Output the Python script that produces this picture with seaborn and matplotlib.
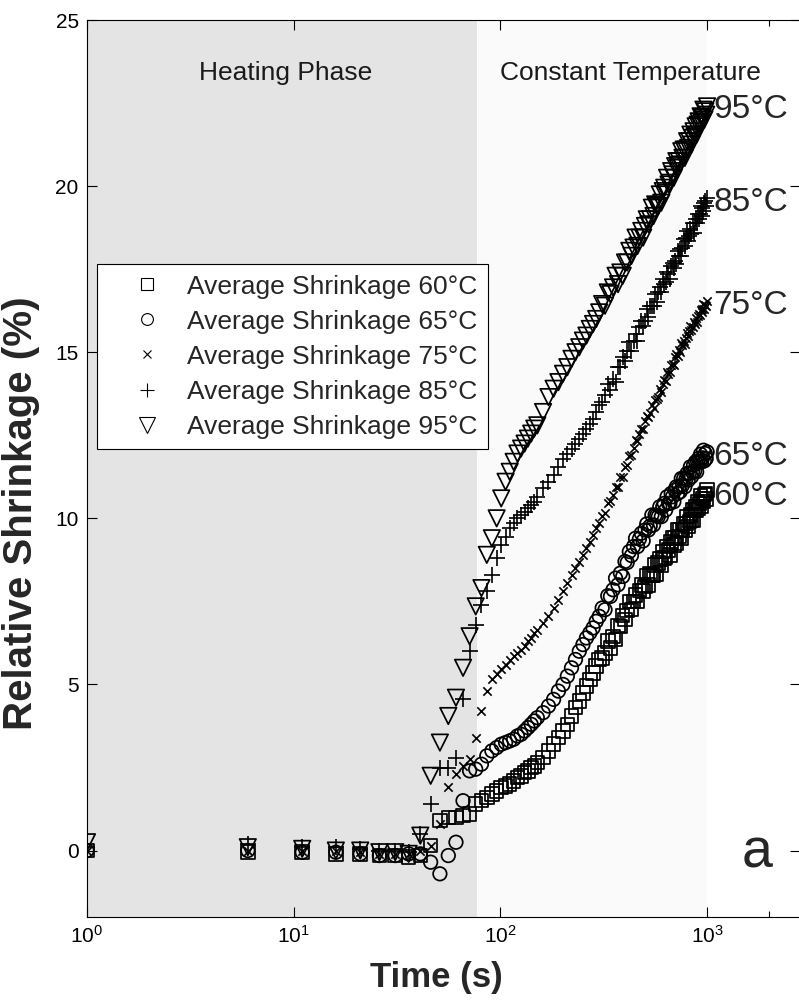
import matplotlib
matplotlib.use("Agg")
import matplotlib.pyplot as plt
import matplotlib.ticker as mticker
from matplotlib.lines import Line2D
import seaborn as sns

# sample times (s) and relative shrinkage (%)
time_s = [1, 6, 11, 16, 21, 26, 31, 36, 41, 46, 51, 56, 61, 66, 71, 76, 81, 86, 91, 96,
          101, 106, 111, 116, 121, 126, 131, 136, 141, 146, 151,
          161, 171, 181, 191, 201, 211, 221, 231, 241, 251, 261, 271, 281, 291, 301,
          311, 321, 331, 341, 351, 361, 371, 381, 391, 401, 411, 421, 431, 441, 451,
          461, 471, 481, 491, 501, 511, 521, 531, 541, 551, 561, 571, 581, 591, 601,
          611, 621, 631, 641, 651, 661, 671, 681, 691, 701, 711, 721, 731, 741, 751,
          761, 771, 781, 791, 801, 811, 821, 831, 841, 851, 861, 871, 881, 891, 901,
          911, 921, 931, 941, 951, 961, 971, 981, 991, 1001]

shrink_60 = [0.0, -0.05, -0.05, -0.1, -0.1, -0.15, -0.15, -0.2, -0.15, 0.15, 0.9, 1.0, 1.0, 1.05, 1.1, 1.4, 1.5, 1.6, 1.7, 1.8,
             1.9, 1.95, 2.0, 2.1, 2.2, 2.25, 2.35, 2.4, 2.5, 2.55, 2.65,
             2.8, 3.0, 3.2, 3.4, 3.6, 3.8, 4.05, 4.3, 4.5, 4.75, 4.95, 5.15, 5.35, 5.55, 5.75,
             5.8, 5.95, 6.3, 6.1, 6.45, 6.35, 6.78, 6.75, 7.07, 6.95, 7.23, 7.5, 7.25, 7.5, 7.7,
             7.5, 7.83, 8.0, 7.82, 7.95, 8.28, 8.0, 8.32, 8.3, 8.28, 8.6, 8.32, 8.65, 8.78, 8.6,
             9.0, 8.8, 8.82, 9.15, 9.05, 8.9, 9.28, 9.4, 9.2, 9.4, 9.25, 9.65, 9.45, 9.65, 9.4,
             9.65, 9.85, 9.65, 9.85, 10.05, 9.75, 9.9, 10.1, 9.95, 10.25, 9.95, 10.25, 10.35, 10.25, 10.5,
             10.3, 10.45, 10.68, 10.35, 10.6, 10.5, 10.72, 10.75, 10.58, 10.85]

shrink_65 = [0.0, 0.0, -0.05, -0.05, -0.1, -0.15, -0.15, -0.1, -0.1, -0.35, -0.7, -0.15, 0.25, 1.5, 2.4, 2.45, 2.6, 2.85, 3.0, 3.1,
             3.2, 3.25, 3.3, 3.35, 3.45, 3.5, 3.6, 3.7, 3.8, 3.9, 4.0,
             4.15, 4.35, 4.55, 4.8, 5.0, 5.25, 5.5, 5.75, 6.0, 6.2, 6.4, 6.55, 6.7, 6.9, 7.05,
             7.3, 7.25, 7.67, 7.65, 7.85, 8.2, 8.0, 8.35, 8.25, 8.7, 8.67, 9.0, 8.88, 9.15, 9.4,
             9.15, 9.38, 9.55, 9.32, 9.65, 9.83, 9.65, 9.77, 10.1, 9.8, 10.1, 10.08, 10.05, 10.35, 10.05,
             10.35, 10.45, 10.25, 10.65, 10.45, 10.45, 10.75, 10.65, 10.5, 10.85, 10.95, 10.75, 10.95, 10.8, 11.2,
             11.0, 11.2, 10.95, 11.18, 11.35, 11.15, 11.35, 11.55, 11.25, 11.4, 11.6, 11.42, 11.7, 11.4, 11.7,
             11.8, 11.7, 11.93, 11.7, 11.82, 12.05, 11.73, 11.95, 11.8, 12.0]

shrink_75 = [0.0, 0.0, 0.0, 0.0, -0.05, -0.1, -0.1, -0.1, 0.0, 0.15, 0.8, 1.9, 2.3, 2.55, 2.75, 3.4, 4.2, 4.8, 5.15, 5.3,
             5.45, 5.6, 5.75, 5.85, 5.95, 6.05, 6.15, 6.3, 6.4, 6.55, 6.65,
             6.85, 7.05, 7.3, 7.55, 7.8, 8.05, 8.3, 8.5, 8.7, 8.9, 9.1, 9.3, 9.5, 9.7, 9.85,
             10.08, 10.15, 10.46, 10.52, 10.7, 10.95, 10.95, 11.23, 11.25, 11.55, 11.62, 11.88, 11.9, 12.13, 12.35,
             12.32, 12.53, 12.7, 12.68, 12.93, 13.08, 13.05, 13.17, 13.4, 13.32, 13.55, 13.6, 13.65, 13.88, 13.8,
             14.03, 14.15, 14.12, 14.4, 14.35, 14.4, 14.63, 14.65, 14.63, 14.85, 14.96, 14.9, 15.06, 15.02, 15.28,
             15.22, 15.35, 15.25, 15.43, 15.58, 15.5, 15.63, 15.78, 15.67, 15.77, 15.9, 15.85, 16.03, 15.9, 16.08,
             16.15, 16.12, 16.28, 16.2, 16.3, 16.45, 16.3, 16.43, 16.4, 16.55]

shrink_85 = [0.1, 0.2, 0.1, 0.1, 0.05, 0.0, 0.0, -0.05, 0.5, 1.4, 2.5, 2.5, 2.8, 4.55, 6.0, 6.8, 7.4, 7.8, 8.3, 8.8,
             9.2, 9.45, 9.7, 9.85, 10.0, 10.1, 10.2, 10.3, 10.4, 10.5, 10.65,
             10.9, 11.1, 11.3, 11.55, 11.8, 11.95, 12.1, 12.25, 12.4, 12.55, 12.7, 12.85, 13.0, 13.2, 13.4,
             13.5, 13.7, 14.05, 13.85, 14.2, 14.1, 14.55, 14.55, 14.85, 14.75, 15.05, 15.3, 15.05, 15.35, 15.55,
             15.35, 15.75, 15.95, 15.8, 15.95, 16.3, 16.05, 16.4, 16.4, 16.4, 16.75, 16.5, 16.8, 16.95, 16.8,
             17.2, 17.05, 17.1, 17.4, 17.35, 17.2, 17.6, 17.7, 17.55, 17.75, 17.65, 18.05, 17.9, 18.1, 17.9,
             18.15, 18.4, 18.2, 18.45, 18.65, 18.35, 18.5, 18.7, 18.55, 18.9, 18.6, 18.9, 19.0, 18.9, 19.15,
             19.0, 19.15, 19.4, 19.1, 19.35, 19.25, 19.5, 19.55, 19.4, 19.65]

shrink_95 = [0.25, 0.1, 0.05, 0.0, 0.0, -0.05, -0.05, -0.1, 0.45, 2.25, 3.25, 4.05, 4.6, 5.5, 6.45, 7.35, 7.9, 8.9, 9.4, 10.0,
             10.6, 11.1, 11.4, 11.7, 11.95, 12.1, 12.25, 12.4, 12.55, 12.7, 12.8,
             13.2, 13.65, 13.9, 14.1, 14.35, 14.55, 14.8, 15.0, 15.15, 15.35, 15.5, 15.7, 15.85, 16.0, 16.2,
             16.45, 16.4, 16.8, 16.75, 16.95, 17.3, 17.05, 17.4, 17.3, 17.7, 17.7, 18.05, 17.9, 18.15, 18.45,
             18.2, 18.45, 18.65, 18.45, 18.8, 19.0, 18.85, 19.0, 19.35, 19.1, 19.45, 19.4, 19.4, 19.75, 19.5,
             19.85, 19.95, 19.8, 20.25, 20.05, 20.1, 20.45, 20.35, 20.25, 20.6, 20.75, 20.55, 20.75, 20.65, 21.05,
             20.85, 21.1, 20.85, 21.1, 21.35, 21.15, 21.35, 21.55, 21.25, 21.45, 21.65, 21.5, 21.8, 21.55, 21.85,
             21.95, 21.85, 22.1, 21.9, 22.05, 22.3, 22.0, 22.25, 22.15, 22.4]

temps = ["60°C", "65°C", "75°C", "85°C", "95°C"]
end_label_y = [10.65, 11.85, 16.4, 19.5, 22.3]
heating_end = 77

sns.set_style("ticks")
plt.rcParams['font.family'] = ['Liberation Sans', 'DejaVu Sans']
plt.rcParams['mathtext.fontset'] = 'custom'
plt.rcParams['mathtext.rm'] = 'Liberation Sans'
plt.rcParams['mathtext.default'] = 'regular'

fig = plt.figure(figsize=(7.99, 10.02), dpi=100)
ax = fig.add_axes([87 / 799, 85 / 1002, 713 / 799, 897 / 1002])

# phase shading
ax.axvspan(1, heating_end, color='#e4e4e4', lw=0, zorder=0)
ax.axvspan(heating_end, 1000, color='#fafafa', lw=0, zorder=0)

# (values, marker, scatter size, legend markersize, filled)
styles = [
    (shrink_60, 's', 95, 8.5, True),
    (shrink_65, 'o', 95, 8.5, True),
    (shrink_75, 'x', 36, 6, False),
    (shrink_85, '+', 125, 10.5, False),
    (shrink_95, 'v', 140, 11, True),
]
handles = []
for (vals, mk, size, msize, filled), temp in zip(styles, temps):
    if filled:
        sns.scatterplot(x=time_s, y=vals, marker=mk, s=size, facecolor='none',
                        edgecolor='black', linewidth=1.25, ax=ax, zorder=3)
    else:
        sns.scatterplot(x=time_s, y=vals, marker=mk, s=size, color='black',
                        linewidth=1.2, ax=ax, zorder=3)
    handles.append(Line2D([], [], ls='none', marker=mk, markersize=msize,
                          markerfacecolor='none', markeredgecolor='black',
                          markeredgewidth=0.8, label=f"Average Shrinkage {temp}"))

ax.set_xscale('log')
ax.set_xlim(1, 10 ** 3.45)
ax.set_ylim(-2, 25)
ax.set_yticks([0, 5, 10, 15, 20, 25])
ax.xaxis.set_major_locator(mticker.FixedLocator([1, 10, 100, 1000]))
ax.xaxis.set_minor_locator(mticker.FixedLocator([2000]))
ax.xaxis.set_minor_formatter(mticker.NullFormatter())
ax.tick_params(which='both', direction='in', top=True, right=True, width=0.8,
               labelsize=15, pad=6, colors='black')
ax.tick_params(which='major', length=7)
ax.tick_params(which='minor', length=4.5)
for sp in ax.spines.values():
    sp.set_linewidth(0.8)
    sp.set_color('black')

ax.set_xlabel("Time (s)", fontsize=25, fontweight='bold')
ax.set_ylabel("Relative Shrinkage (%)", fontsize=29, fontweight='bold')
ax.xaxis.set_label_coords(0.49, -0.049)
ax.yaxis.set_label_coords(-0.066, 0.45)

ax.text(9.1, 23.4, "Heating Phase", fontsize=19, ha='center', va='center', color='#1a1a1a')
ax.text(428, 23.4, "Constant Temperature", fontsize=19, ha='center', va='center', color='#1a1a1a')
for temp, yv in zip(temps, end_label_y):
    ax.text(1075, yv, temp, fontsize=24, ha='left', va='center')
ax.text(1740, -0.1, "a", fontsize=40, ha='center', va='center')

leg = ax.legend(handles=handles, loc='upper left', bbox_to_anchor=(0.014, 0.728),
                borderaxespad=0, frameon=True, fancybox=False, edgecolor='black',
                framealpha=1, fontsize=19, handlelength=3.0, handletextpad=0.0,
                borderpad=0.4, labelspacing=0.42)
leg.get_frame().set_linewidth(0.8)

fig.savefig("out.png", dpi=100)
